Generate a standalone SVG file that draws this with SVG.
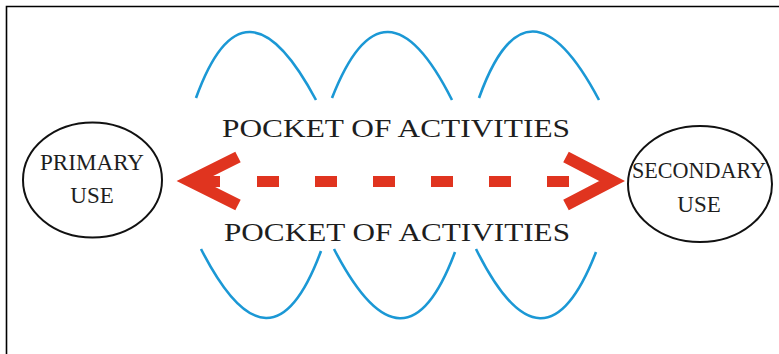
<svg xmlns="http://www.w3.org/2000/svg" width="779" height="354" viewBox="0 0 779 354">
  <style>
    .frame { stroke: #000; stroke-width: 1.6; fill: none; }
    .arc { fill: none; stroke: #1b98d5; stroke-width: 2.6; stroke-linecap: butt; }
    .node ellipse { fill: #fff; stroke: #111; stroke-width: 2; }
    .node text { font-family: "Liberation Serif", "Times New Roman", serif; font-size: 23px; fill: #1e1e1e; text-anchor: middle; }
    .label { font-family: "Liberation Serif", "Times New Roman", serif; font-size: 25px; fill: #1e1e1e; }
    .chevron { fill: none; stroke: #e0341f; stroke-width: 12; stroke-linejoin: miter; stroke-miterlimit: 6; }
    .dash { fill: #e0341f; }
  </style>

  <rect x="0" y="0" width="779" height="354" fill="#fff"/>
  <!-- frame: top and left edges only -->
  <path class="frame" d="M6.5,354 V6.5 H779"/>

  <!-- upper pocket arcs -->
  <g id="arcs-top">
    <path class="arc" d="M196,98 Q244,-35 316,100"/>
    <path class="arc" d="M332,98 Q384,-35 452,100"/>
    <path class="arc" d="M479,98 Q527,-36 599,100"/>
  </g>

  <!-- lower pocket arcs -->
  <g id="arcs-bottom">
    <path class="arc" d="M201,249 Q271,386 321,251"/>
    <path class="arc" d="M334,249 Q405,386 455,252"/>
    <path class="arc" d="M476,249 Q544,386 596,252"/>
  </g>

  <text class="label" x="222" y="137" textLength="348" lengthAdjust="spacingAndGlyphs">POCKET OF ACTIVITIES</text>
  <text class="label" x="224" y="241" textLength="346" lengthAdjust="spacingAndGlyphs">POCKET OF ACTIVITIES</text>

  <g id="primary-use" class="node">
    <ellipse cx="92.5" cy="180" rx="69.5" ry="57.5"/>
    <text x="92" y="170" textLength="104" lengthAdjust="spacingAndGlyphs">PRIMARY</text>
    <text x="92" y="203">USE</text>
  </g>

  <g id="secondary-use" class="node">
    <ellipse cx="700" cy="184" rx="72" ry="58"/>
    <text x="699" y="178" textLength="134" lengthAdjust="spacingAndGlyphs">SECONDARY</text>
    <text x="699" y="212">USE</text>
  </g>

  <!-- dashed two-way connector -->
  <g id="connectors">
    <path class="chevron" d="M238,157 L190,181 L238,205"/>
    <path class="chevron" d="M566,157 L612,181 L566,205"/>
    <rect class="dash" x="203" y="176" width="17" height="11"/>
    <rect class="dash" x="257" y="176" width="22" height="11"/>
    <rect class="dash" x="315" y="176" width="22" height="11"/>
    <rect class="dash" x="373" y="176" width="22" height="11"/>
    <rect class="dash" x="431" y="176" width="22" height="11"/>
    <rect class="dash" x="489" y="176" width="22" height="11"/>
    <rect class="dash" x="547" y="176" width="22" height="11"/>
  </g>
</svg>
